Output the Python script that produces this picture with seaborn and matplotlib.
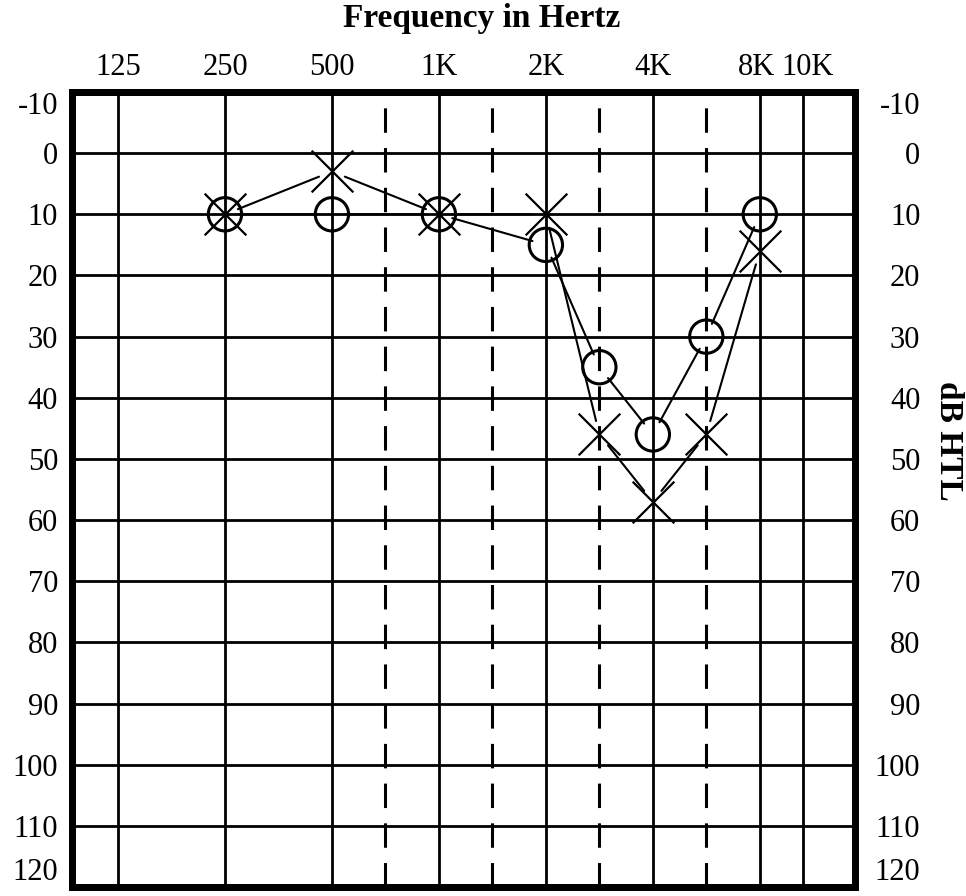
import numpy as np
import matplotlib
matplotlib.use("Agg")
import matplotlib.pyplot as plt
import matplotlib.transforms as mtransforms
from matplotlib.ticker import NullLocator
import seaborn as sns

# audiogram readings (dB HTL)
freqs = [250, 500, 1000, 2000, 3000, 4000, 6000, 8000]
right_ear = [10, 10, 10, 15, 35, 46, 30, 10]   # O
left_ear = [10, 3, 10, 10, 46, 57, 46, 16]     # X

octave_freqs = [125, 250, 500, 1000, 2000, 4000, 8000, 10000]
octave_labels = ["125", "250", "500", "1K", "2K", "4K", "8K", "10K"]
half_octave_freqs = [750, 1500, 3000, 6000]
db_ticks = list(range(-10, 130, 10))

# audiogram frequency scale: octaves evenly spaced, half-octaves at midpoints
anchor_f = np.array([62.5, 125, 250, 500, 750, 1000, 1500, 2000, 3000,
                     4000, 6000, 8000, 10000, 16000])
anchor_p = np.array([-1, 0, 1, 2, 2.5, 3, 3.5, 4, 4.5, 5, 5.5, 6, 6.4, 7])


def fwd(f):
    f = np.clip(np.asarray(f, dtype=float), 1e-6, None)
    return np.interp(np.log2(f), np.log2(anchor_f), anchor_p,
                     left=-1e3, right=1e3)


def inv(p):
    return 2 ** np.interp(p, anchor_p, np.log2(anchor_f))


sns.set_theme(style="white")
plt.rcParams["font.family"] = ["Liberation Serif", "DejaVu Serif"]
plt.rcParams["axes.unicode_minus"] = False
for key in ("text.color", "xtick.color", "ytick.color", "axes.labelcolor"):
    plt.rcParams[key] = "black"

fig = plt.figure(figsize=(9.66, 8.96), dpi=100)
ax = fig.add_axes([72 / 966, 1 - 887 / 896, (855 - 72) / 966, (887 - 92) / 896])
ax.set_xscale("function", functions=(fwd, inv))
ax.set_xlim(inv(-0.43), inv(6.89))
ax.set_ylim(120, -10)

# grid
for f in octave_freqs:
    ax.axvline(f, color="black", lw=2.0, zorder=1)
for f in half_octave_freqs:
    ax.axvline(f, color="black", lw=2.2, ls=(0, (8, 5)), zorder=1)
for d in db_ticks[1:-1]:
    ax.axhline(d, color="black", lw=2.0, zorder=1)

# connecting lines, stopped short of the symbols
for series in (right_ear, left_ear):
    for i in range(len(freqs) - 1):
        ax.annotate("", xy=(freqs[i + 1], series[i + 1]), xytext=(freqs[i], series[i]),
                    arrowprops=dict(arrowstyle="-", color="black", lw=1.5,
                                    shrinkA=10, shrinkB=10), zorder=2)

sns.scatterplot(x=freqs, y=right_ear, marker="o", s=24 ** 2, facecolor="none",
                edgecolor="black", linewidth=2.2, zorder=3, ax=ax)
sns.scatterplot(x=freqs, y=left_ear, marker="x", s=30 ** 2, color="black",
                linewidth=1.6, zorder=3, ax=ax)

# x axis on top
ax.xaxis.tick_top()
ax.set_xticks(octave_freqs)
ax.set_xticklabels(octave_labels)
ax.xaxis.set_minor_locator(NullLocator())
ax.tick_params(axis="x", length=0, pad=7, labelsize=22)

# spread the crowded 8K / 10K labels a little
xlabels = ax.get_xticklabels()
for lbl, dx in ((xlabels[-2], -3), (xlabels[-1], 5)):
    off = mtransforms.ScaledTranslation(dx / 100, 0, fig.dpi_scale_trans)
    lbl.set_transform(lbl.get_transform() + off)

ax.set_yticks(db_ticks)
ax.yaxis.set_minor_locator(NullLocator())
ax.tick_params(axis="y", length=0, pad=10, labelsize=22)

ax2 = ax.twinx()
ax2.set_ylim(120, -10)
ax2.set_yticks(db_ticks)
ax2.yaxis.set_minor_locator(NullLocator())
ax2.tick_params(axis="y", length=0, pad=47, labelsize=22)
for lbl in ax2.get_yticklabels():
    lbl.set_horizontalalignment("right")

# end labels sit just inside the frame
for a in (ax, ax2):
    labels = a.get_yticklabels()
    labels[0].set_verticalalignment("top")
    labels[-1].set_verticalalignment("bottom")
    for sp in a.spines.values():
        sp.set_visible(True)
        sp.set_color("black")
        sp.set_linewidth(5)

fig.text(482 / 966, 1 - 27 / 896, "Frequency in Hertz", ha="center", va="baseline",
         fontsize=24, fontweight="bold")
fig.text(949 / 966, 1 - 441 / 896, "dB HTL", ha="center", va="center",
         rotation=-90, fontsize=24, fontweight="bold")

fig.savefig("out.png", dpi=100)
